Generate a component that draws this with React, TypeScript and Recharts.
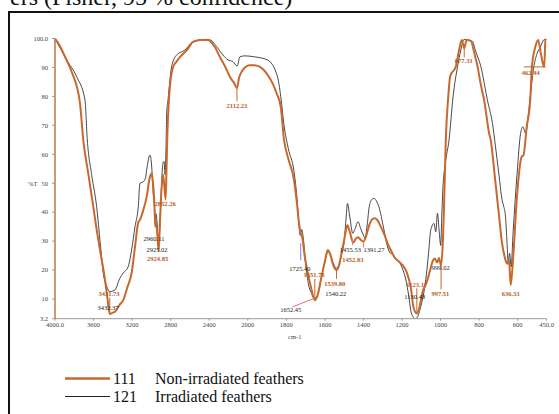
import React from 'react';
import { LineChart, Line, XAxis, YAxis, ReferenceLine, ReferenceDot } from 'recharts';

const ORANGE = '#c8682c';
const GREY = '#333333';
const SERIF = 'Liberation Serif, Times New Roman, serif';

// above 2000 cm-1 the spectrum is drawn at half the scale of the fingerprint region
const toAxis = (w: number) => (w > 2000 ? 2000 + (w - 2000) / 2 : w);

// 111 - non-irradiated feathers
const wavenumbers111 = [
  4000, 3950, 3896, 3827, 3741, 3707, 3655, 3603, 3568, 3533,
  3481, 3455, 3431.73, 3400, 3378, 3330, 3292, 3250, 3205, 3170,
  3136, 3119, 3084, 3049, 3015, 2997, 2985, 2972, 2966, 2960,
  2952, 2940, 2924.85, 2912, 2895, 2880, 2866, 2852.26, 2843, 2835,
  2820, 2800, 2776, 2740, 2704, 2631, 2569, 2496, 2420, 2393,
  2340, 2289, 2230, 2185, 2140, 2112.23, 2090, 2064, 2030, 1993,
  1969, 1940, 1917, 1895, 1872, 1850, 1829, 1812, 1790, 1760,
  1745, 1734, 1725, 1718, 1705, 1690, 1672, 1652.45, 1635, 1621,
  1600, 1585, 1570, 1560, 1539.8, 1525, 1515, 1500, 1490, 1483,
  1470, 1452.83, 1440, 1428, 1415, 1400, 1385, 1370, 1355, 1340,
  1325, 1310, 1290, 1275, 1255, 1241, 1215, 1195, 1180, 1165,
  1155, 1140, 1123.17, 1110, 1095, 1068, 1050, 1042, 1030, 1018,
  1008, 997.51, 988, 982, 973, 960, 950, 921, 904, 890,
  877.31, 865, 843, 825, 808, 791, 774, 748, 740, 715,
  698, 681, 672, 657, 652, 645, 636.33, 622, 605, 579,
  570, 553, 535, 526, 508, 494, 480, 468, 462.44, 456, 450,
];
const transmittance111 = [
  100, 97.5, 93.7, 88.5, 77.7, 65, 53.4, 41.9, 34, 26.9,
  16.6, 10, 4.8, 5.3, 5.6, 8, 9.6, 14, 19, 28,
  36.5, 37.3, 40.7, 45.3, 52.2, 53.4, 50.5, 45, 40, 35,
  37, 33, 26.5, 36, 48, 53, 49, 44.5, 55, 66,
  78, 86, 90, 92, 93.6, 96, 98.8, 99.5, 99.6, 99.2,
  97, 93.6, 90, 86.7, 84.5, 82.9, 86.5, 88.5, 90, 90.8,
  90.8, 90.3, 89.1, 87.2, 84.6, 81, 76.4, 65, 58.5, 51,
  43, 36, 32.5, 31.5, 25, 19.4, 14, 9.6, 12, 16.6,
  23, 26.9, 25, 22.4, 20, 22, 25.5, 30.4, 34, 35.5,
  33, 29.5, 30.8, 31.3, 30.5, 29.8, 32, 35.5, 37.5, 37.9,
  37, 35, 32, 29.2, 26.5, 24.6, 22.9, 21.5, 20, 17,
  14.2, 7, 5, 7, 12, 16.6, 21, 22.9, 24, 22.6,
  24.2, 21.5, 30, 42, 64.9, 80, 87, 90.3, 96, 99.5,
  96.6, 99.5, 99.2, 95, 90.3, 84, 78.7, 67.2, 64.9, 50,
  39.6, 29.2, 25.9, 22.4, 22.2, 23.5, 14.8, 25.8, 44.2, 59.2,
  59.7, 69.5, 78.7, 90.3, 97.2, 99.5, 94.9, 91, 90.2, 99.5, 99.8,
];

// 121 - irradiated feathers
const wavenumbers121 = [
  4000, 3879, 3775, 3689, 3665, 3620, 3568, 3530, 3499, 3465,
  3431, 3400, 3378, 3330, 3292, 3243, 3205, 3170, 3136, 3119,
  3084, 3060, 3049, 3015, 3000, 2990, 2980, 2970, 2960.11, 2953,
  2940, 2925.02, 2915, 2900, 2880, 2868, 2858, 2850, 2840, 2828,
  2790, 2738, 2652, 2569, 2480, 2393, 2323, 2258, 2206, 2154,
  2110, 2082, 2030, 1969, 1898, 1846, 1829, 1812, 1790, 1760,
  1745, 1735, 1728, 1720, 1712, 1700, 1685, 1670, 1652.45, 1635,
  1621, 1600, 1585, 1570, 1560, 1540.22, 1525, 1515, 1500, 1490,
  1483, 1470, 1455.53, 1445, 1428, 1415, 1400, 1391.27, 1380, 1370,
  1355, 1345, 1330, 1320, 1295, 1275, 1260, 1248, 1235, 1215,
  1195, 1180, 1165, 1155, 1140, 1130.48, 1118, 1108, 1090, 1077,
  1062, 1051, 1034, 1025, 1016, 1008, 999.02, 994, 988, 975,
  956, 935, 912, 895, 878, 860, 834, 820, 791, 757,
  731, 715, 698, 681, 672, 663, 655, 649, 642, 634,
  624, 603, 585, 573, 559, 546, 533, 516, 499, 481, 465, 450,
];
const transmittance121 = [
  100, 92.6, 86.8, 78.7, 65, 53, 41.9, 29, 18.9, 14.5,
  12.5, 12.8, 13.1, 17, 19, 21, 27, 35, 41.9, 50,
  50.5, 52, 54.6, 59.7, 57, 52, 46, 43, 37.5, 39.5,
  36, 28.5, 33, 45, 57, 57.5, 53, 60, 75, 78.7,
  90.3, 94.3, 96, 98.9, 99.5, 99.5, 97.2, 94.3, 92.6, 92,
  90.5, 93.7, 94, 93.7, 92.6, 86.8, 80, 70, 62, 54,
  45, 36, 32, 34, 31, 22, 15, 12, 10.2, 12,
  16.6, 23, 26.3, 25, 23, 20.7, 22, 25, 30, 38,
  43, 38, 32.7, 34, 36.7, 34.5, 32, 31, 36, 41.9,
  44.5, 44.8, 43.5, 41.9, 34.4, 28, 25.8, 25.5, 24, 22.9,
  20, 16.6, 11, 6.2, 3.6, 3.2, 4, 6.2, 11, 16.6,
  26, 33.8, 36.1, 33.2, 39.6, 34, 28.5, 38, 48, 57,
  65, 80, 90.3, 96, 99.7, 99.5, 99, 96, 90.3, 78.7,
  70.7, 62.6, 53.4, 44.2, 41.9, 38.4, 29.2, 22.3, 25.8, 21.1,
  32.7, 53.4, 67.2, 69.5, 67.2, 73, 81, 90.3, 94.9, 97.2, 99.5, 99.8,
];

const xTickValues = [4000, 3600, 3200, 2800, 2400, 2000, 1800, 1600, 1400, 1200, 1000, 800, 600, 450];
const xTickLabels = ['4000.0', '3600', '3200', '2800', '2400', '2000', '1800', '1600', '1400', '1200', '1000', '800', '600', '450.0'];
const yTickValues = [3.2, 10, 20, 30, 40, 50, 60, 70, 80, 90, 100];
const yTickLabels = ['3.2', '10', '20', '30', '40', '50', '60', '70', '80', '90', '100.0'];

// peak picks: text, wavenumber and %T where the text sits
const peakText111 = ['3431.73', '2924.85', '2852.26', '2112.23', '1651.75', '1539.80', '1452.83', '1123.17', '997.51', '636.33', '877.31', '462.44'];
const peakTextW111 = [3440, 2935, 2858, 2112.23, 1656, 1549, 1455, 1123.5, 1001, 636.33, 880, 532];
const peakTextT111 = [12, 23.8, 42.8, 76.7, 18.3, 15.4, 23.5, 15.1, 11.7, 12, 92.2, 88.2];

const peakText121 = ['2960.11', '2925.02', '3432.37', '1725.40', '1652.45', '1540.22', '1455.53', '1391.27', '1130.48', '999.02'];
const peakTextW121 = [2973, 2942, 3450, 1730, 1777, 1544, 1468, 1345, 1134, 999];
const peakTextT121 = [31, 27.2, 7, 20.6, 6.2, 12, 27.2, 26.9, 10.8, 20.9];

// leader lines from peaks to their picks: [w1, t1, w2, t2, colour]
const leaders: [number, number, number, number, string][] = [
  [3431.73, 4.8, 3431.73, 10.5, ORANGE],
  [2112.23, 82.9, 2112.23, 78.3, ORANGE],
  [1652.45, 9.6, 1652.45, 17, ORANGE],
  [1539.8, 20, 1539.8, 17, ORANGE],
  [1123.17, 5, 1123.17, 13.7, ORANGE],
  [997.51, 21.5, 997.51, 13.3, ORANGE],
  [877.31, 98, 877.31, 93.5, ORANGE],
  [568, 90.2, 454, 90.2, ORANGE],
  [1725.4, 29.3, 1725.4, 23.4, '#7d7de8'],
  [1768, 7.3, 1656, 10.2, '#e8736b'],
  [1457, 30.4, 1457, 28.7, '#e8736b'],
  [1400, 29.5, 1400, 27.8, '#e8736b'],
];

const series111 = wavenumbers111.map((w, i) => ({ x: toAxis(w), t: transmittance111[i] }));
const series121 = wavenumbers121.map((w, i) => ({ x: toAxis(w), t: transmittance121[i] }));
const xTicks = xTickValues.map(toAxis);

const tickStyle = { fontSize: 6.5, fill: '#444', fontFamily: SERIF };
const legendText = { fontSize: 16, fontFamily: SERIF, fill: '#111' };

export default function App() {
  return (
    <div style={{ position: 'absolute', left: 8, top: 0, width: 551, height: 414, overflow: 'hidden', background: '#fff' }}>
      <svg width={551} height={414} style={{ position: 'absolute', left: 0, top: 0 }}>
        <text x={2} y={5} fontSize={24} fontFamily={SERIF} fill="#111">ers (Fisher, 95 % confidence)</text>
        <rect x={1} y={12} width={620} height={520} fill="none" stroke="#111" strokeWidth={2} />
        <line x1={57} x2={102} y1={378.5} y2={378.5} stroke={ORANGE} strokeWidth={2.5} />
        <text x={105} y={384} {...legendText}>111</text>
        <text x={147} y={384} {...legendText}>Non-irradiated feathers</text>
        <line x1={57} x2={102} y1={396.5} y2={396.5} stroke="#222" strokeWidth={1} />
        <text x={105} y={402} {...legendText}>121</text>
        <text x={147} y={402} {...legendText}>Irradiated feathers</text>
      </svg>
      <div style={{ position: 'absolute', left: 0, top: 0 }}>
        <LineChart width={551} height={414} margin={{ top: 38.5, right: 12.4, bottom: 65.3, left: 17 }}>
          <XAxis
            type="number"
            dataKey="x"
            domain={[450, 3000]}
            reversed
            allowDataOverflow
            ticks={xTicks}
            interval={0}
            tickFormatter={(v: number) => xTickLabels[xTicks.indexOf(v)] ?? ''}
            height={30}
            tickSize={2}
            tickMargin={2}
            tick={tickStyle}
            axisLine={{ stroke: '#999' }}
            tickLine={{ stroke: '#999' }}
            label={{ value: 'cm-1', position: 'insideBottom', offset: 10, dx: -6, fontSize: 6.5, fill: '#444', fontFamily: SERIF }}
          />
          <YAxis
            type="number"
            domain={[3.2, 100]}
            allowDataOverflow
            ticks={yTickValues}
            interval={0}
            tickFormatter={(v: number) => yTickLabels[yTickValues.indexOf(v)] ?? ''}
            width={30}
            tickSize={3}
            tickMargin={4}
            tick={tickStyle}
            axisLine={{ stroke: '#b9784a', strokeWidth: 1.5 }}
            tickLine={{ stroke: '#999' }}
            label={{ value: '%T', position: 'insideLeft', offset: 3, dy: 5, fontSize: 6.5, fill: '#444', fontFamily: SERIF }}
          />
          <Line data={series121} dataKey="t" type="monotone" stroke={GREY} strokeWidth={0.9} dot={false} activeDot={false} isAnimationActive={false} />
          <Line data={series111} dataKey="t" type="monotone" stroke={ORANGE} strokeWidth={2} dot={false} activeDot={false} isAnimationActive={false} />
          {leaders.map(([w1, t1, w2, t2, c], i) => (
            <ReferenceLine
              key={`l${i}`}
              segment={[{ x: toAxis(w1), y: t1 }, { x: toAxis(w2), y: t2 }]}
              stroke={c}
              strokeWidth={1}
            />
          ))}
          {peakText121.map((txt, i) => (
            <ReferenceDot
              key={`g${i}`}
              x={toAxis(peakTextW121[i])}
              y={peakTextT121[i]}
              r={0}
              fill="none"
              stroke="none"
              label={{ value: txt, position: 'center', fontSize: 6.5, fill: '#222', fontFamily: SERIF }}
            />
          ))}
          {peakText111.map((txt, i) => (
            <ReferenceDot
              key={`o${i}`}
              x={toAxis(peakTextW111[i])}
              y={peakTextT111[i]}
              r={0}
              fill="none"
              stroke="none"
              label={{ value: txt, position: 'center', fontSize: 6.5, fontWeight: 'bold', fill: '#b85a22', fontFamily: SERIF }}
            />
          ))}
        </LineChart>
      </div>
    </div>
  );
}
